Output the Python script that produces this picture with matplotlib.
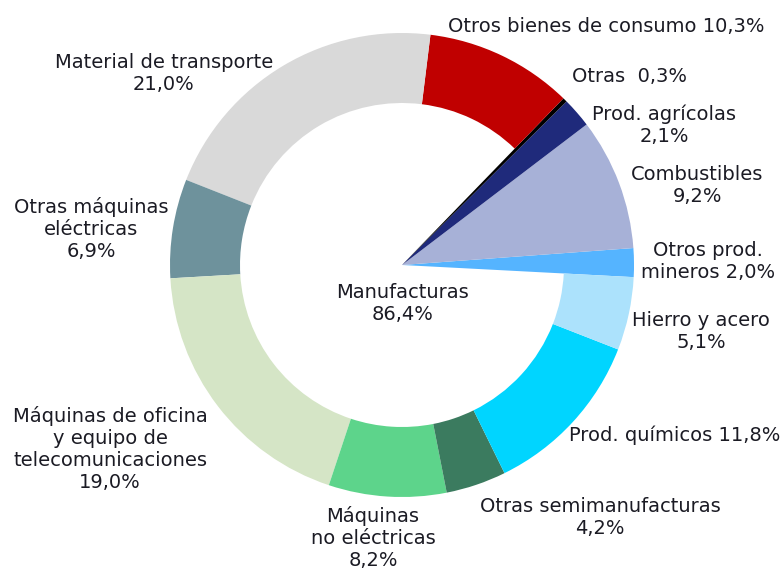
import matplotlib
matplotlib.use("Agg")
import matplotlib.pyplot as plt

# Export structure by product group (% of total)
sectors = ['Otros prod. mineros', 'Combustibles', 'Prod. agrícolas', 'Otras',
           'Otros bienes de consumo', 'Material de transporte',
           'Otras máquinas eléctricas', 'Máquinas de oficina',
           'Máquinas no eléctricas', 'Otras semimanufacturas',
           'Prod. químicos', 'Hierro y acero']
shares = [2.0, 9.2, 2.1, 0.3, 10.3, 21.0, 6.9, 19.0, 8.2, 4.2, 11.8, 5.1]
is_manuf = [False, False, False, False, True, True, True, True, True, True, True, True]
colors = ['#55b4ff', '#a7b1d7', '#1f2a7b', '#000000', '#c00000', '#d9d9d9',
          '#6e929c', '#d5e5c6', '#5dd48b', '#3b7b5f', '#00d5ff', '#ace2fc']

labels = ['Otros prod.\nmineros 2,0%', 'Combustibles\n9,2%',
          'Prod. agrícolas\n2,1%', 'Otras  0,3%',
          'Otros bienes de consumo 10,3%', 'Material de transporte\n21,0%',
          'Otras máquinas\neléctricas\n6,9%',
          'Máquinas de oficina\ny equipo de\ntelecomunicaciones\n19,0%',
          'Máquinas\nno eléctricas\n8,2%', 'Otras semimanufacturas\n4,2%',
          'Prod. químicos 11,8%', 'Hierro y acero\n5,1%']
total_label = 'Manufacturas\n86,4%'

# label anchor points (pixels, y down)
label_pos = [(708, 262), (697, 186), (664, 125), (629, 77), (606, 27),
             (164, 74), (91, 229), (110, 449), (373, 538), (600, 518),
             (675, 435), (701, 332)]

W, H = 782, 575
fig = plt.figure(figsize=(W / 100, H / 100), dpi=100)
ax = fig.add_axes([0, 0, 1, 1])

# y axis is flipped below, so clockwise in data = counterclockwise on screen
wedges, _ = ax.pie(shares, colors=colors, startangle=3, counterclock=False,
                   radius=232, center=(402, 265),
                   wedgeprops=dict(linewidth=0))
for w, m in zip(wedges, is_manuf):
    if m:
        w.set_width(70)

txt = dict(fontsize=14, color='#1b1b24', ha='center', va='center',
           linespacing=1.2, family='DejaVu Sans')
for lab, (x, y) in zip(labels, label_pos):
    ax.text(x, y, lab, **txt)
ax.text(403, 304, total_label, **txt)

ax.set_xlim(0, W)
ax.set_ylim(H, 0)
ax.set_aspect('equal')
ax.axis('off')

fig.savefig('out.png', dpi=100)
